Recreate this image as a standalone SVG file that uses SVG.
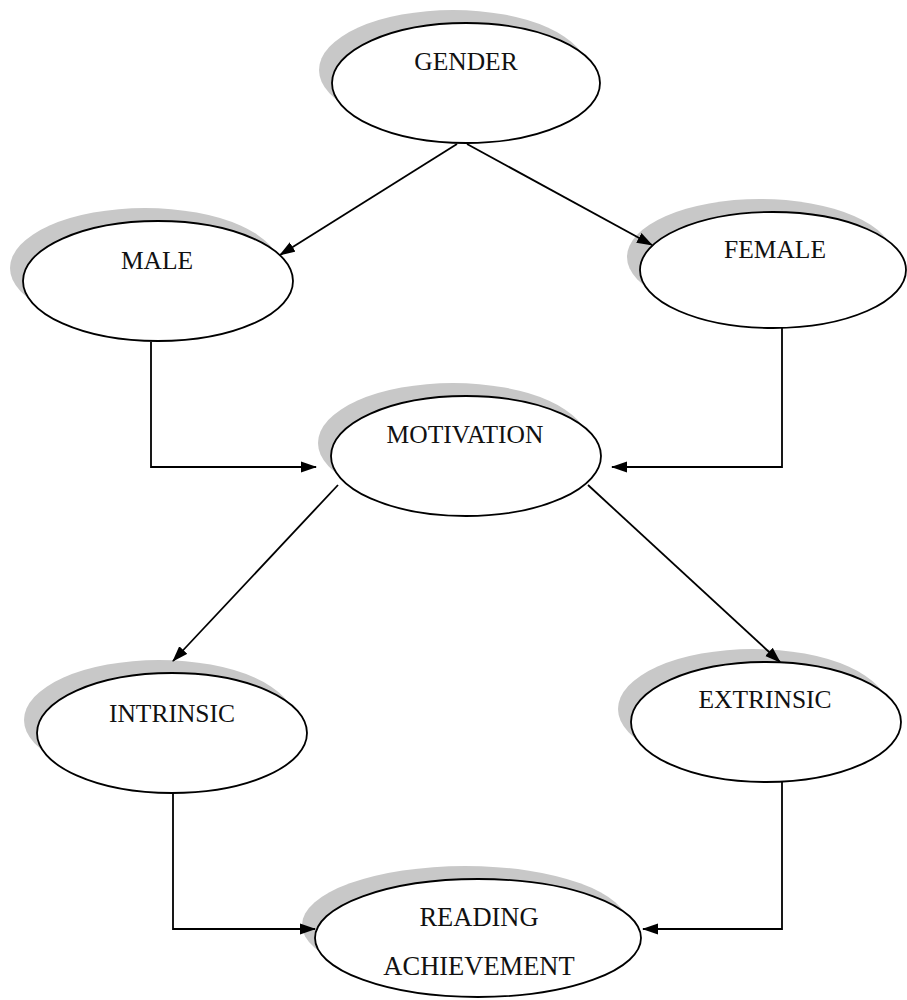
<svg xmlns="http://www.w3.org/2000/svg" width="907" height="1000" viewBox="0 0 907 1000">
<defs>
<marker id="arr" markerWidth="16" markerHeight="12" refX="15" refY="6" orient="auto" markerUnits="userSpaceOnUse">
<path d="M0,0.5 L16,6 L0,11.5 Z" fill="#000"/>
</marker>
<style>
.sh{fill:#c8c8c8;stroke:none}
.el{fill:#fff;stroke:#000;stroke-width:1.8}
.t{font-family:"Liberation Serif","Times New Roman",serif;font-size:25.5px;fill:#111;text-anchor:middle}
.r{font-size:26.5px}
.c{fill:none;stroke:#000;stroke-width:1.8}
</style>
</defs>
<rect width="907" height="1000" fill="#fff"/>
<g id="gender">
<ellipse class="sh" cx="453" cy="70" rx="134" ry="60"/>
<ellipse class="el" cx="466" cy="83" rx="134" ry="60"/>
<text class="t" x="466" y="70">GENDER</text>
</g>
<g id="male">
<ellipse class="sh" cx="145" cy="268" rx="135" ry="60"/>
<ellipse class="el" cx="158" cy="281" rx="135" ry="60"/>
<text class="t" x="157" y="269">MALE</text>
</g>
<g id="female">
<ellipse class="sh" cx="760" cy="257" rx="133" ry="58"/>
<ellipse class="el" cx="773" cy="270" rx="133" ry="58"/>
<text class="t" x="775" y="258">FEMALE</text>
</g>
<g id="motivation">
<ellipse class="sh" cx="453" cy="443" rx="135" ry="60"/>
<ellipse class="el" cx="466" cy="456" rx="135" ry="60"/>
<text class="t" x="465" y="443">MOTIVATION</text>
</g>
<g id="intrinsic">
<ellipse class="sh" cx="159" cy="720" rx="135" ry="60"/>
<ellipse class="el" cx="172" cy="733" rx="135" ry="60"/>
<text class="t" x="172" y="722">INTRINSIC</text>
</g>
<g id="extrinsic">
<ellipse class="sh" cx="753" cy="709" rx="135" ry="60"/>
<ellipse class="el" cx="766" cy="722" rx="135" ry="60"/>
<text class="t" x="765" y="708">EXTRINSIC</text>
</g>
<g id="reading">
<ellipse class="sh" cx="465" cy="925" rx="163" ry="59"/>
<ellipse class="el" cx="478" cy="938" rx="163" ry="59"/>
<text class="t r" x="479" y="926">READING</text>
<text class="t r" x="479" y="975">ACHIEVEMENT</text>
</g>
<g id="connectors">
<line class="c" x1="457" y1="144" x2="280" y2="255" marker-end="url(#arr)"/>
<line class="c" x1="467" y1="144" x2="652" y2="245" marker-end="url(#arr)"/>
<polyline class="c" points="151,342 151,467 316,467" marker-end="url(#arr)"/>
<polyline class="c" points="782,327 782,467 612,467" marker-end="url(#arr)"/>
<line class="c" x1="338" y1="485" x2="173" y2="661" marker-end="url(#arr)"/>
<line class="c" x1="588" y1="485" x2="780" y2="662" marker-end="url(#arr)"/>
<polyline class="c" points="173,794 173,929 315,929" marker-end="url(#arr)"/>
<polyline class="c" points="782,782 782,929 643,929" marker-end="url(#arr)"/>
</g>
</svg>
